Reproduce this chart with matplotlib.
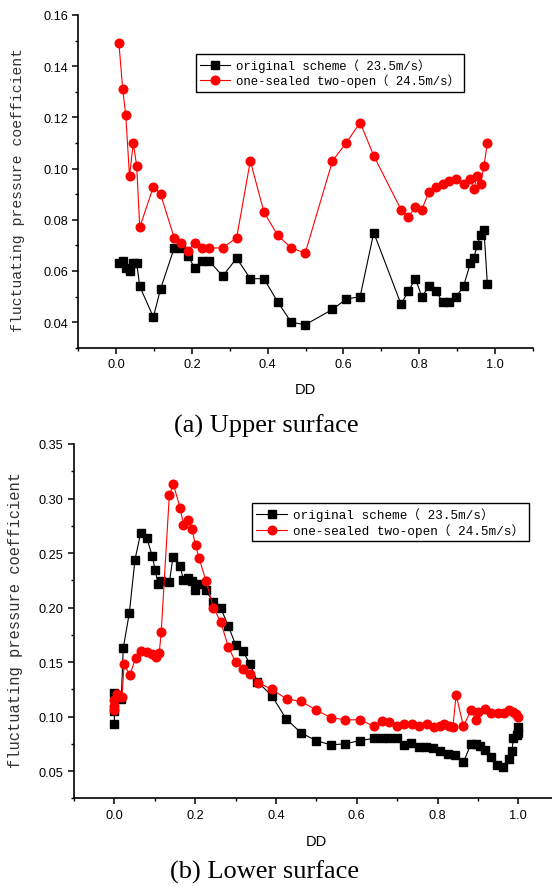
import matplotlib
matplotlib.use("Agg")
import matplotlib.pyplot as plt
from matplotlib.ticker import MultipleLocator

# (a) upper surface
dd_up = [0.007, 0.017, 0.025, 0.035, 0.045, 0.054, 0.062, 0.098, 0.117, 0.153,
         0.172, 0.190, 0.207, 0.226, 0.245, 0.281, 0.318, 0.354, 0.390, 0.426,
         0.462, 0.499, 0.571, 0.607, 0.644, 0.680, 0.752, 0.771, 0.790, 0.807,
         0.826, 0.844, 0.862, 0.880, 0.898, 0.917, 0.935, 0.944, 0.953, 0.962,
         0.971, 0.980]
orig_up = [0.063, 0.064, 0.061, 0.060, 0.063, 0.063, 0.054, 0.042, 0.053, 0.069,
           0.069, 0.066, 0.061, 0.064, 0.064, 0.058, 0.065, 0.057, 0.057, 0.048,
           0.040, 0.039, 0.045, 0.049, 0.050, 0.075, 0.047, 0.052, 0.057, 0.050,
           0.054, 0.052, 0.048, 0.048, 0.050, 0.054, 0.063, 0.065, 0.070, 0.074,
           0.076, 0.055]
seal_up = [0.149, 0.131, 0.121, 0.097, 0.110, 0.101, 0.077, 0.093, 0.090, 0.073,
           0.071, 0.068, 0.071, 0.069, 0.069, 0.069, 0.073, 0.103, 0.083, 0.074,
           0.069, 0.067, 0.103, 0.110, 0.118, 0.105, 0.084, 0.081, 0.085, 0.084,
           0.091, 0.093, 0.094, 0.095, 0.096, 0.094, 0.096, 0.092, 0.097, 0.094,
           0.101, 0.110]

# (b) lower surface
dd_lo_orig = [0.0, 0.0, 0.0, 0.017, 0.022, 0.037, 0.051, 0.065, 0.080, 0.094,
              0.101, 0.108, 0.116, 0.136, 0.145, 0.163, 0.171, 0.183, 0.192, 0.200,
              0.210, 0.226, 0.245, 0.263, 0.282, 0.300, 0.318, 0.336, 0.354, 0.390,
              0.425, 0.462, 0.499, 0.536, 0.572, 0.608, 0.643, 0.663, 0.681, 0.699,
              0.716, 0.734, 0.754, 0.772, 0.788, 0.807, 0.825, 0.844, 0.864, 0.883,
              0.895, 0.905, 0.918, 0.932, 0.947, 0.961, 0.976, 0.984, 0.988, 0.996,
              1.0, 1.0]
orig_lo = [0.093, 0.105, 0.122, 0.116, 0.163, 0.195, 0.244, 0.268, 0.264, 0.247,
           0.234, 0.222, 0.224, 0.223, 0.246, 0.238, 0.225, 0.227, 0.224, 0.216,
           0.222, 0.216, 0.205, 0.200, 0.183, 0.166, 0.160, 0.148, 0.132, 0.119,
           0.098, 0.085, 0.078, 0.074, 0.075, 0.078, 0.080, 0.080, 0.080, 0.080,
           0.074, 0.076, 0.072, 0.072, 0.071, 0.068, 0.066, 0.065, 0.058, 0.075,
           0.075, 0.073, 0.069, 0.063, 0.056, 0.054, 0.061, 0.068, 0.080, 0.083,
           0.085, 0.090]
dd_lo_seal = [0.0, 0.0, 0.0, 0.006, 0.012, 0.019, 0.024, 0.038, 0.053, 0.065,
              0.080, 0.094, 0.102, 0.111, 0.116, 0.136, 0.146, 0.163, 0.171, 0.182,
              0.192, 0.201, 0.210, 0.227, 0.245, 0.263, 0.282, 0.300, 0.319, 0.336,
              0.355, 0.390, 0.427, 0.462, 0.499, 0.536, 0.572, 0.608, 0.643, 0.663,
              0.681, 0.699, 0.718, 0.737, 0.755, 0.773, 0.791, 0.805, 0.817, 0.829,
              0.838, 0.846, 0.864, 0.883, 0.895, 0.899, 0.918, 0.932, 0.949, 0.965,
              0.976, 0.988, 0.995, 1.0]
seal_lo = [0.106, 0.110, 0.115, 0.121, 0.119, 0.118, 0.148, 0.138, 0.154, 0.160,
           0.159, 0.157, 0.155, 0.158, 0.178, 0.303, 0.313, 0.291, 0.276, 0.280,
           0.272, 0.257, 0.245, 0.224, 0.200, 0.187, 0.164, 0.150, 0.144, 0.139,
           0.131, 0.125, 0.116, 0.114, 0.106, 0.099, 0.097, 0.097, 0.091, 0.096,
           0.095, 0.091, 0.093, 0.093, 0.091, 0.093, 0.090, 0.091, 0.093, 0.091,
           0.090, 0.120, 0.091, 0.106, 0.097, 0.104, 0.107, 0.103, 0.103, 0.103,
           0.106, 0.104, 0.102, 0.100]

labels = ["original scheme（ 23.5m/s）", "one-sealed two-open（ 24.5m/s）"]
ylab = "fluctuating pressure coefficient"

mono = ["Liberation Mono", "Noto Sans CJK SC"]
sans = "Liberation Sans"
serif = "Liberation Serif"

W, H = 552, 887
fig = plt.figure(figsize=(W / 100, H / 100), dpi=100)


def px_axes(x0, x1, ytop, ybot):
    return fig.add_axes([x0 / W, 1 - ybot / H, (x1 - x0) / W, (ybot - ytop) / H])


def style(ax, ylim, ymaj, ymin):
    ax.set_xlim(-0.1, 1.1)
    ax.set_ylim(*ylim)
    for s in ["top", "right"]:
        ax.spines[s].set_visible(False)
    for s in ["left", "bottom"]:
        ax.spines[s].set_linewidth(1.2)
    ax.xaxis.set_major_locator(MultipleLocator(0.2))
    ax.xaxis.set_minor_locator(MultipleLocator(0.1))
    ax.yaxis.set_major_locator(MultipleLocator(ymaj))
    ax.yaxis.set_minor_locator(MultipleLocator(ymin))
    ax.yaxis.set_major_formatter(plt.FuncFormatter(lambda v, p: f"{v:.2f}"))
    ax.xaxis.set_major_formatter(plt.FuncFormatter(lambda v, p: f"{v:.1f}"))
    ax.tick_params(which="major", direction="out", length=4, width=1.1, labelsize=9.2)
    ax.tick_params(which="minor", direction="out", length=2.5, width=1.0)
    for t in ax.get_xticklabels() + ax.get_yticklabels():
        t.set_family(sans)


def draw(ax, dx1, y1, dx2, y2, anchor, fsize):
    ax.plot(dx1, y1, color="black", marker="s", ms=5.2, lw=0.8, label=labels[0])
    ax.plot(dx2, y2, color="red", marker="o", ms=6.2, lw=0.8, label=labels[1])
    leg = ax.legend(loc="upper left", bbox_to_anchor=anchor, bbox_transform=fig.transFigure,
                    borderaxespad=0, prop={"family": mono, "size": fsize}, fancybox=False,
                    framealpha=1, edgecolor="black", handlelength=2.4, handletextpad=0.5,
                    borderpad=0.35, labelspacing=0.15)
    leg.get_frame().set_linewidth(1.0)


# top chart
ax1 = px_axes(78.4, 532.8, 16, 348.8)
draw(ax1, dd_up, orig_up, dd_up, seal_up, (196 / W, 1 - 55 / H), 8.9)
style(ax1, (0.03, 0.16), 0.02, 0.01)

# bottom chart
ax2 = px_axes(74, 558.7, 445, 799.3)
draw(ax2, dd_lo_orig, orig_lo, dd_lo_seal, seal_lo, (252 / W, 1 - 504 / H), 9.1)
style(ax2, (0.025, 0.35), 0.05, 0.025)

# axis titles and captions
fig.text(18.5 / W, 1 - 190 / H, ylab, rotation=90, ha="center", va="center",
         family=mono, size=10.7, color="#333333")
fig.text(16 / W, 1 - 620 / H, ylab, rotation=90, ha="center", va="center",
         family=mono, size=11.2, color="#333333")
fig.text(305.6 / W, 1 - 390 / H, "DD", ha="center", va="center", family=sans, size=10.5)
fig.text(316.3 / W, 1 - 842 / H, "DD", ha="center", va="center", family=sans, size=10.5)
fig.text(266 / W, 1 - 426 / H, "(a) Upper surface", ha="center", va="center",
         family=serif, size=19)
fig.text(265 / W, 1 - 872 / H, "(b) Lower surface", ha="center", va="center",
         family=serif, size=19)

fig.savefig("out.png", dpi=100)
